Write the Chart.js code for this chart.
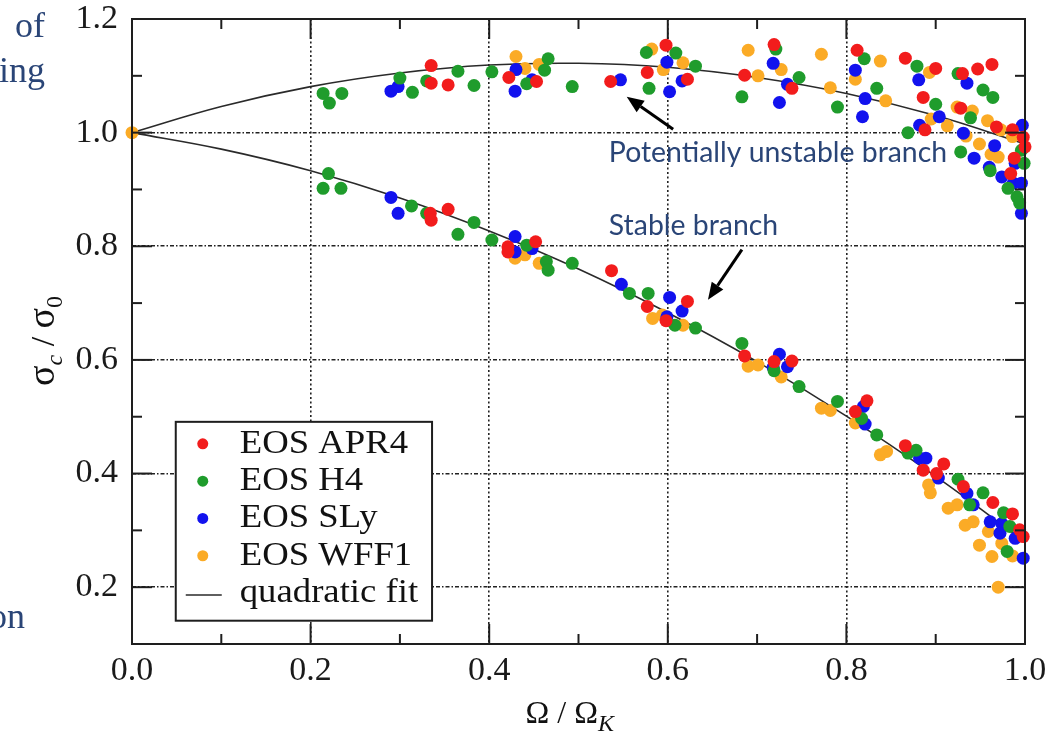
<!DOCTYPE html>
<html>
<head>
<meta charset="utf-8">
<script src="https://cdn.jsdelivr.net/npm/chart.js@4.4.0/dist/chart.umd.min.js"></script>
<style>
  html, body { margin: 0; padding: 0; background: #fff; }
  #wrap { width: 1053px; height: 740px; }
</style>
</head>
<body>
<div id="wrap"><canvas id="chart" width="1053" height="740"></canvas></div>
<script>
// ------------------ DATA ------------------
const xTicks = [0.0, 0.2, 0.4, 0.6, 0.8, 1.0];
const yTicks = [0.2, 0.4, 0.6, 0.8, 1.0, 1.2];
const xMinor = [0.1, 0.3, 0.5, 0.7, 0.9];
const yMinor = [0.3, 0.5, 0.7, 0.9, 1.1];

const eosNames = ["EOS APR4", "EOS H4", "EOS SLy", "EOS WFF1"];
const eosColors = ["#f21c1c", "#1f9c2c", "#1212ee", "#fbab26"];

// [Omega/Omega_K, sigma_c/sigma_0]
const apr4 = [
  [0.335,1.118],[0.335,1.087],[0.354,1.084],[0.422,1.097],[0.453,1.090],[0.536,1.090],[0.598,1.154],
  [0.577,1.106],[0.622,1.094],[0.719,1.155],[0.686,1.101],[0.739,1.078],[0.812,1.145],[0.866,1.131],
  [0.900,1.113],[0.886,1.062],[0.930,1.104],[0.947,1.112],[0.963,1.120],[0.928,1.043],[0.888,1.005],
  [0.968,1.010],[0.986,1.005],[0.998,0.992],[1.000,0.975],[0.988,0.955],[0.984,0.928],
  [0.334,0.858],[0.335,0.846],[0.354,0.865],[0.421,0.799],[0.452,0.808],[0.421,0.790],[0.537,0.757],
  [0.622,0.703],[0.577,0.694],[0.598,0.669],[0.686,0.607],[0.719,0.597],[0.739,0.598],[0.823,0.528],
  [0.810,0.509],[0.866,0.449],[0.886,0.406],[0.909,0.417],[0.901,0.400],[0.931,0.377],[0.964,0.349],
  [0.986,0.329],[0.994,0.301],[0.998,0.289]
];
const h4 = [
  [0.214,1.069],[0.235,1.069],[0.221,1.052],[0.300,1.096],[0.314,1.071],[0.330,1.091],[0.365,1.108],
  [0.383,1.083],[0.403,1.107],[0.466,1.130],[0.462,1.110],[0.442,1.086],[0.493,1.081],[0.576,1.141],
  [0.609,1.140],[0.631,1.117],[0.579,1.078],[0.721,1.147],[0.747,1.097],[0.683,1.063],[0.790,1.045],
  [0.820,1.130],[0.834,1.078],[0.879,1.117],[0.900,1.050],[0.925,1.104],[0.953,1.075],[0.964,1.062],
  [0.939,1.026],[0.869,1.000],[0.928,0.966],[0.961,0.933],[0.981,0.902],[0.991,0.887],[0.994,0.876],
  [0.999,0.946],[0.996,0.969],
  [0.220,0.928],[0.214,0.902],[0.234,0.902],[0.313,0.871],[0.330,0.858],[0.383,0.842],[0.365,0.821],
  [0.403,0.811],[0.442,0.802],[0.464,0.773],[0.466,0.758],[0.493,0.770],[0.557,0.717],[0.578,0.717],
  [0.608,0.661],[0.631,0.656],[0.683,0.629],[0.719,0.581],[0.747,0.553],[0.790,0.527],[0.817,0.497],
  [0.834,0.468],[0.869,0.436],[0.878,0.441],[0.925,0.390],[0.953,0.366],[0.938,0.345],[0.976,0.331],
  [0.983,0.307],[0.980,0.263]
];
const sly = [
  [0.290,1.073],[0.298,1.081],[0.430,1.111],[0.448,1.093],[0.429,1.073],[0.547,1.093],[0.599,1.124],
  [0.616,1.091],[0.602,1.072],[0.718,1.122],[0.734,1.085],[0.725,1.053],[0.810,1.110],[0.821,1.060],
  [0.818,1.028],[0.881,1.093],[0.904,1.028],[0.882,1.013],[0.935,1.087],[0.931,0.999],[0.997,1.013],
  [0.943,0.955],[0.966,0.977],[0.960,0.939],[0.974,0.922],[0.989,0.946],[0.987,0.911],[0.996,0.911],
  [0.996,0.858],
  [0.290,0.886],[0.298,0.858],[0.429,0.817],[0.448,0.796],[0.429,0.790],[0.548,0.733],[0.602,0.710],
  [0.616,0.686],[0.599,0.676],[0.725,0.610],[0.718,0.587],[0.734,0.588],[0.819,0.518],[0.821,0.487],
  [0.882,0.427],[0.889,0.427],[0.903,0.392],[0.935,0.365],[0.942,0.345],[0.961,0.315],[0.974,0.312],
  [0.972,0.295],[0.989,0.286],[0.998,0.251]
];
const wff1 = [
  [0.000,1.000],[0.430,1.134],[0.440,1.113],[0.456,1.120],[0.582,1.147],[0.595,1.111],[0.617,1.123],
  [0.690,1.145],[0.727,1.111],[0.701,1.100],[0.772,1.138],[0.782,1.079],[0.838,1.126],[0.810,1.094],
  [0.844,1.056],[0.893,1.106],[0.895,1.024],[0.924,1.045],[0.941,1.038],[0.913,1.012],[0.958,1.021],
  [0.973,1.005],[0.934,0.994],[0.986,0.993],[0.949,0.980],[0.962,0.962],[0.970,0.957],
  [0.429,0.779],[0.440,0.785],[0.456,0.770],[0.583,0.673],[0.594,0.679],[0.617,0.661],[0.690,0.589],
  [0.701,0.591],[0.727,0.570],[0.772,0.515],[0.782,0.511],[0.810,0.489],[0.838,0.433],[0.845,0.439],
  [0.892,0.380],[0.894,0.366],[0.914,0.339],[0.924,0.345],[0.933,0.309],[0.942,0.315],[0.959,0.298],
  [0.949,0.274],[0.974,0.277],[0.963,0.254],[0.986,0.255],[0.970,0.200]
];

// quadratic fit curves
const fitX     = [0.0, 0.1, 0.2, 0.3, 0.4, 0.5, 0.6, 0.7, 0.8, 0.9, 1.0];
const fitUpper = [1.000, 1.046, 1.081, 1.105, 1.119, 1.122, 1.115, 1.097, 1.069, 1.030, 0.980];
const fitLower = [1.000, 0.971, 0.933, 0.885, 0.827, 0.760, 0.683, 0.597, 0.501, 0.395, 0.280];

// annotations (data coordinates)
const notes = [
  { text: "Potentially unstable branch", x: 0.534, y: 0.948, tail: [0.606, 1.006], tip: [0.554, 1.063] },
  { text: "Stable branch",               x: 0.534, y: 0.820, tail: [0.683, 0.794], tip: [0.645, 0.706] }
];

// ------------------ HELPERS ------------------
const SERIF = "'Liberation Serif', 'Times New Roman', serif";
const NOTE_BLUE = "#2a4577";
const toXY = arr => arr.map(p => ({ x: p[0], y: p[1] }));

function line(ctx, x1, y1, x2, y2){
  ctx.beginPath(); ctx.moveTo(x1, y1); ctx.lineTo(x2, y2); ctx.stroke();
}

// draw text pieces one after another: [text, font, dy]
function drawRich(ctx, parts, x, y){
  parts.forEach(([t, font, dy]) => {
    ctx.font = font;
    ctx.fillText(t, x, y + (dy || 0));
    x += ctx.measureText(t).width;
  });
}

function arrow(ctx, x1, y1, x2, y2){
  const ang = Math.atan2(y2 - y1, x2 - x1), hl = 17, hw = 7;
  const bx = x2 - hl * Math.cos(ang), by = y2 - hl * Math.sin(ang);
  ctx.lineWidth = 3;
  line(ctx, x1, y1, bx, by);
  ctx.beginPath();
  ctx.moveTo(x2, y2);
  ctx.lineTo(bx + hw * Math.sin(ang), by - hw * Math.cos(ang));
  ctx.lineTo(bx - hw * Math.sin(ang), by + hw * Math.cos(ang));
  ctx.closePath(); ctx.fill();
}

// ------------------ FRAME / LEGEND / TEXT ------------------
const framePlugin = {
  id: "frame",
  afterDatasetsDraw(chart){
    const { ctx, chartArea: a, scales: { x, y } } = chart;
    ctx.save();
    ctx.strokeStyle = "#1e1e1e";
    ctx.lineWidth = 2;
    ctx.strokeRect(a.left, a.top, a.right - a.left, a.bottom - a.top);
    const xt = (v, len) => { const p = x.getPixelForValue(v); line(ctx, p, a.bottom, p, a.bottom - len); line(ctx, p, a.top, p, a.top + len); };
    const yt = (v, len) => { const p = y.getPixelForValue(v); line(ctx, a.left, p, a.left + len, p); line(ctx, a.right, p, a.right - len, p); };
    xTicks.forEach(v => xt(v, 20)); xMinor.forEach(v => xt(v, 10));
    yTicks.forEach(v => yt(v, 20)); yMinor.forEach(v => yt(v, 10));

    // legend
    const L = x.getPixelForValue(0.049), R = x.getPixelForValue(0.336);
    const T = y.getPixelForValue(0.491), B = y.getPixelForValue(0.141);
    ctx.fillStyle = "#fff";
    ctx.fillRect(L, T, R - L, B - T);
    ctx.lineWidth = 2;
    ctx.strokeRect(L, T, R - L, B - T);
    ctx.font = "34px " + SERIF;
    ctx.textBaseline = "middle";
    chart.data.datasets.filter(d => d.legend).forEach((d, i) => {
      const cy = T + 22 + i * 37.3;
      if (d.showLine) {
        ctx.strokeStyle = d.borderColor; ctx.lineWidth = 1.5;
        line(ctx, L + 10, cy + 2, L + 46, cy + 2);
      } else {
        ctx.fillStyle = d.backgroundColor;
        ctx.beginPath(); ctx.arc(L + 27, cy, 5.5, 0, Math.PI * 2); ctx.fill();
      }
      ctx.fillStyle = "#111";
      ctx.save();
      ctx.translate(L + 64, cy);
      ctx.scale(1.08, 1);
      ctx.fillText(d.label, 0, 0);
      ctx.restore();
    });

    // annotations
    ctx.fillStyle = NOTE_BLUE;
    ctx.textBaseline = "alphabetic";
    ctx.font = "100px Lato, 'Open Sans', sans-serif";
    const k = 100 * 338 / ctx.measureText(notes[0].text).width;
    ctx.font = k.toFixed(1) + "px Lato, 'Open Sans', sans-serif";
    notes.forEach(n => ctx.fillText(n.text, x.getPixelForValue(n.x), y.getPixelForValue(n.y)));
    ctx.fillStyle = "#000"; ctx.strokeStyle = "#000";
    notes.forEach(n => arrow(ctx,
      x.getPixelForValue(n.tail[0]), y.getPixelForValue(n.tail[1]),
      x.getPixelForValue(n.tip[0]), y.getPixelForValue(n.tip[1])));

    // axis titles
    ctx.fillStyle = "#111";
    drawRich(ctx, [["\u03A9", "32px " + SERIF], [" / ", "32px " + SERIF], ["\u03A9", "32px " + SERIF], ["K", "italic 24px " + SERIF, 8]],
      (a.left + a.right) / 2 - 53, 723);
    ctx.save();
    ctx.translate(54, 386);
    ctx.rotate(-Math.PI / 2);
    drawRich(ctx, [["\u03C3", "38px " + SERIF], ["c", "italic 24px " + SERIF, 8], [" / ", "34px " + SERIF], ["\u03C3", "38px " + SERIF], ["0", "24px " + SERIF, 8]], 0, 0);
    ctx.restore();

    // cut-off slide text at the left edge
    ctx.fillStyle = NOTE_BLUE;
    ctx.font = "36px " + SERIF;
    ctx.textAlign = "right";
    ctx.fillText("of", 45, 37);
    ctx.fillText("ing", 45, 82);
    ctx.fillText("on", 25, 628);
    ctx.restore();
  }
};

// ------------------ CHART ------------------
const eosData = [apr4, h4, sly, wff1];
const datasets = eosData.map((d, i) => ({
  label: eosNames[i],
  legend: true,
  data: toXY(d),
  backgroundColor: eosColors[i],
  borderColor: eosColors[i],
  borderWidth: 0,
  pointRadius: 6.5,
  clip: false
}));
const fitStyle = { borderColor: "#2a2a2a", borderWidth: 1.6, pointRadius: 0, showLine: true, tension: 0.4, fill: false, clip: false };
datasets.push({ label: "quadratic fit", legend: true, data: fitX.map((v, i) => ({ x: v, y: fitUpper[i] })), ...fitStyle });
datasets.push({ label: "fit lower", data: fitX.map((v, i) => ({ x: v, y: fitLower[i] })), ...fitStyle });

Chart.defaults.font.family = SERIF;

new Chart(document.getElementById("chart"), {
  type: "scatter",
  data: { datasets },
  options: {
    responsive: false,
    animation: false,
    events: [],
    layout: { padding: { top: 19, right: 28, left: 0, bottom: 0 } },
    plugins: { legend: { display: false }, tooltip: { enabled: false } },
    scales: {
      x: {
        type: "linear", min: 0, max: 1,
        afterBuildTicks: s => { s.ticks = xTicks.map(v => ({ value: v })); },
        afterFit: s => { s.height = 96; s.paddingLeft = 0; s.paddingRight = 0; },
        ticks: { callback: v => v.toFixed(1), font: { size: 34 }, color: "#1a1a1a", padding: 7, maxRotation: 0, autoSkip: false },
        grid: { drawTicks: false, lineWidth: 1.6, color: c => (c.tick && c.tick.value > 0 && c.tick.value < 1) ? "#222" : "rgba(0,0,0,0)" },
        border: { display: false, dash: [2, 2.5] }
      },
      y: {
        type: "linear", min: 0.1, max: 1.2,
        afterBuildTicks: s => { s.ticks = yTicks.map(v => ({ value: v })); },
        afterFit: s => { s.width = 132; s.paddingTop = 0; s.paddingBottom = 0; },
        ticks: { callback: v => v.toFixed(1), font: { size: 34 }, color: "#1a1a1a", padding: 14, autoSkip: false },
        grid: { drawTicks: false, lineWidth: 1.6, color: c => (c.tick && c.tick.value < 1.1) ? "#222" : "rgba(0,0,0,0)" },
        border: { display: false, dash: [4, 2, 1.5, 2] }
      }
    }
  },
  plugins: [framePlugin]
});
</script>
</body>
</html>
